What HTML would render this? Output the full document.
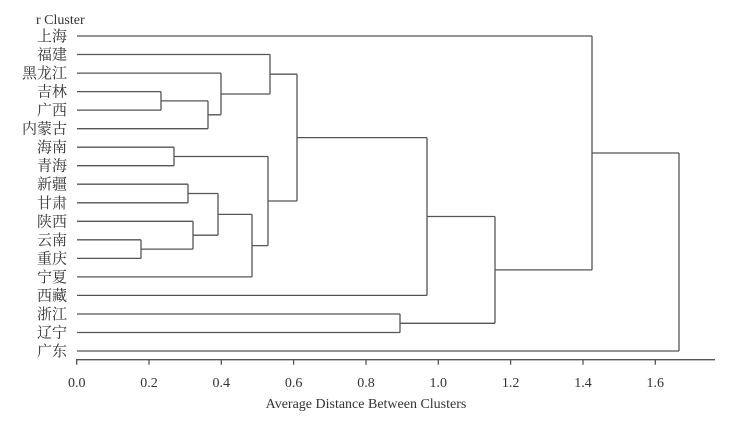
<!DOCTYPE html>
<html><head><meta charset="utf-8"><style>
html,body{margin:0;padding:0;background:#fff;}
svg{display:block;}
.l{font-family:"Liberation Serif","Noto Serif CJK SC",serif;font-size:15px;fill:#333;}
.t{font-family:"Liberation Serif",serif;font-size:14px;fill:#333;}
</style></head><body>
<svg width="737" height="431" viewBox="0 0 737 431" xmlns="http://www.w3.org/2000/svg">
<g fill="none" stroke="#555" stroke-width="1.3">
<path d="M77 36H592"/>
<path d="M77 54.5H270"/>
<path d="M77 73.1H221"/>
<path d="M77 91.6H161"/>
<path d="M77 110.1H161"/>
<path d="M77 128.7H208"/>
<path d="M77 147.2H174"/>
<path d="M77 165.7H174"/>
<path d="M77 184.2H188"/>
<path d="M77 202.8H188"/>
<path d="M77 221.3H193"/>
<path d="M77 239.8H141"/>
<path d="M77 258.4H141"/>
<path d="M77 276.9H252"/>
<path d="M77 295.4H427"/>
<path d="M77 314H400"/>
<path d="M77 332.5H400"/>
<path d="M77 351H679"/>
<path d="M161 91.6V110.1M161 100.9H208"/>
<path d="M208 100.9V128.7M208 114.8H221"/>
<path d="M221 73.1V114.8M221 94H270"/>
<path d="M270 54.5V94M270 74.2H297"/>
<path d="M174 147.2V165.7M174 156.5H268"/>
<path d="M188 184.2V202.8M188 193.5H218"/>
<path d="M141 239.8V258.4M141 249.1H193"/>
<path d="M193 221.3V249.1M193 235.2H218"/>
<path d="M218 193.5V235.2M218 214.4H252"/>
<path d="M252 214.4V276.9M252 245.6H268"/>
<path d="M268 156.5V245.6M268 201H297"/>
<path d="M297 74.2V201M297 137.6H427"/>
<path d="M427 137.6V295.4M427 216.5H495"/>
<path d="M400 314V332.5M400 323.3H495"/>
<path d="M495 216.5V323.3M495 269.9H592"/>
<path d="M592 36V269.9M592 153H679"/>
<path d="M679 153V351"/>
<path d="M76 359.7H715"/>
<path d="M76.7 359.7v5M149 359.7v5M221.3 359.7v5M293.6 359.7v5M366 359.7v5M438.3 359.7v5M510.6 359.7v5M583 359.7v5M655.3 359.7v5"/>
</g>
<g class="l" text-anchor="end">
<text x="67" y="41">上海</text>
<text x="67" y="59.5">福建</text>
<text x="67" y="78.1">黑龙江</text>
<text x="67" y="96.6">吉林</text>
<text x="67" y="115.1">广西</text>
<text x="67" y="133.7">内蒙古</text>
<text x="67" y="152.2">海南</text>
<text x="67" y="170.7">青海</text>
<text x="67" y="189.2">新疆</text>
<text x="67" y="207.8">甘肃</text>
<text x="67" y="226.3">陕西</text>
<text x="67" y="244.8">云南</text>
<text x="67" y="263.4">重庆</text>
<text x="67" y="281.9">宁夏</text>
<text x="67" y="300.4">西藏</text>
<text x="67" y="319">浙江</text>
<text x="67" y="337.5">辽宁</text>
<text x="67" y="356">广东</text>
</g>
<text class="t" x="36" y="24">r Cluster</text>
<g class="t" text-anchor="middle">
<text x="76.7" y="387">0.0</text>
<text x="149" y="387">0.2</text>
<text x="221.3" y="387">0.4</text>
<text x="293.6" y="387">0.6</text>
<text x="366" y="387">0.8</text>
<text x="438.3" y="387">1.0</text>
<text x="510.6" y="387">1.2</text>
<text x="583" y="387">1.4</text>
<text x="655.3" y="387">1.6</text>
<text x="366" y="408">Average Distance Between Clusters</text>
</g>
</svg>
</body></html>
